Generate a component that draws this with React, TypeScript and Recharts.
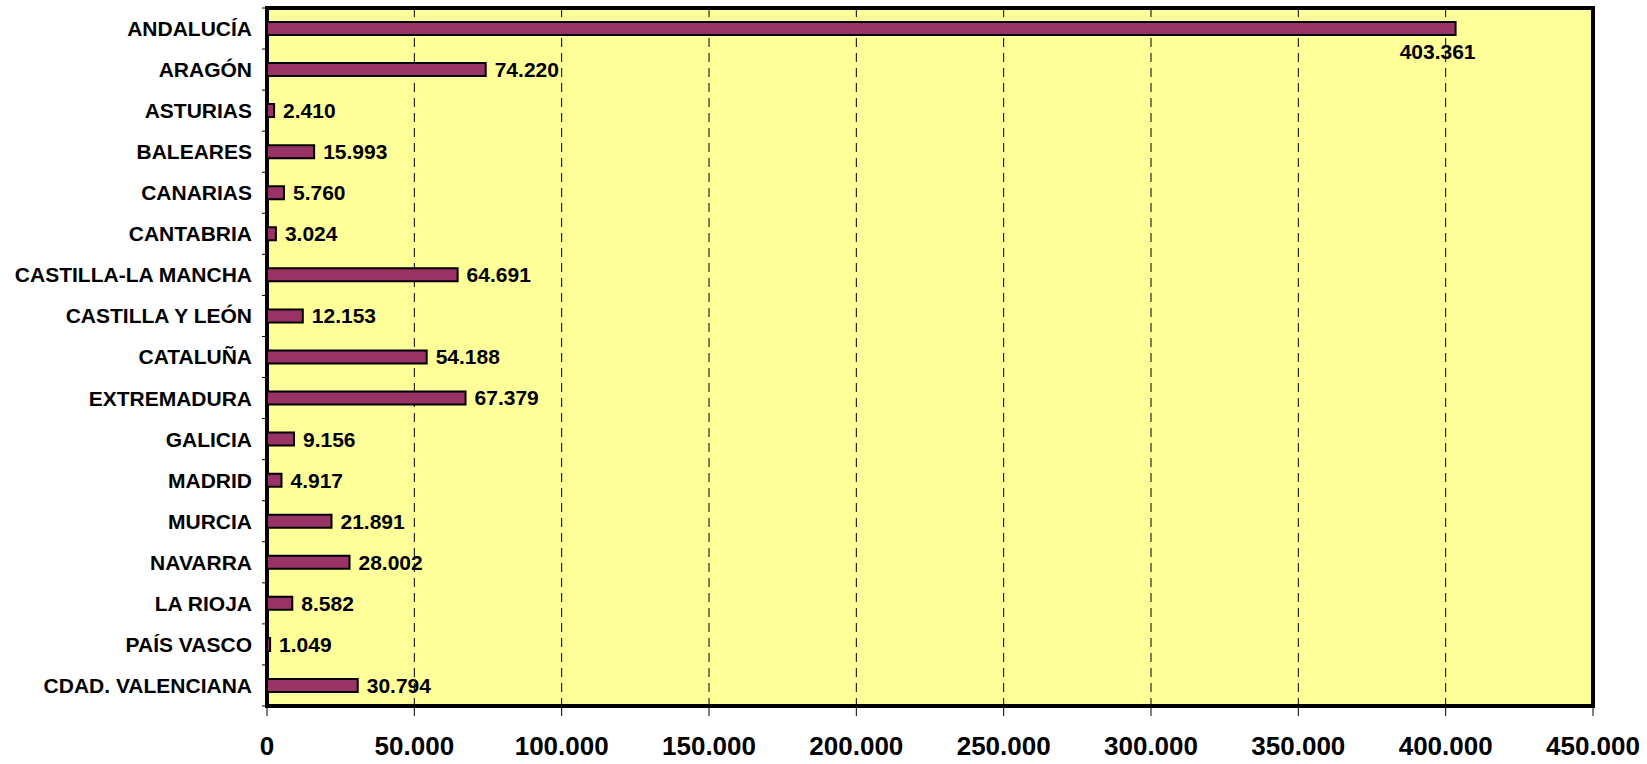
import React from 'react';
import { BarChart, Bar, XAxis, YAxis, CartesianGrid, LabelList, ReferenceArea } from 'recharts';

const regions = [
  'ANDALUCÍA', 'ARAGÓN', 'ASTURIAS', 'BALEARES', 'CANARIAS', 'CANTABRIA',
  'CASTILLA-LA MANCHA', 'CASTILLA Y LEÓN', 'CATALUÑA', 'EXTREMADURA', 'GALICIA',
  'MADRID', 'MURCIA', 'NAVARRA', 'LA RIOJA', 'PAÍS VASCO', 'CDAD. VALENCIANA',
];
const values = [
  403361, 74220, 2410, 15993, 5760, 3024, 64691, 12153, 54188, 67379, 9156,
  4917, 21891, 28002, 8582, 1049, 30794,
];
const xTicks = [0, 50000, 100000, 150000, 200000, 250000, 300000, 350000, 400000, 450000];

const data = regions.map((name, i) => ({ name, value: values[i] }));

const FONT = '"Liberation Sans", Arial, sans-serif';
const fmt = (n: number) => String(n).replace(/\B(?=(\d{3})+(?!\d))/g, '.');

const TICK_SIZE = 5;
const TICK_MARGIN = 10;

const CategoryTick = (props: any) => {
  const { x, y, payload, index, visibleTicksCount } = props;
  const axisX = x + TICK_SIZE + TICK_MARGIN;
  const half = payload && payload.offset != null ? payload.offset : 20.5;
  return (
    <g>
      <text
        x={x}
        y={y}
        dy="0.355em"
        textAnchor="end"
        fontFamily={FONT}
        fontWeight="bold"
        fontSize={21}
        fill="#000"
      >
        {payload.value}
      </text>
      <line x1={axisX - TICK_SIZE} x2={axisX} y1={y - half} y2={y - half} stroke="#000" strokeWidth={1} />
      {index === visibleTicksCount - 1 && (
        <line x1={axisX - TICK_SIZE} x2={axisX} y1={y + half} y2={y + half} stroke="#000" strokeWidth={1} />
      )}
    </g>
  );
};

const ValueLabel = (props: any) => {
  const { x, y, width, height, value, index } = props;
  if (index === 0) {
    return (
      <text
        x={x + width + 20}
        y={y + height + 23.5}
        textAnchor="end"
        fontFamily={FONT}
        fontWeight="bold"
        fontSize={21}
        fill="#000"
      >
        {fmt(value)}
      </text>
    );
  }
  return (
    <text
      x={x + width + 9}
      y={y + height / 2}
      dy="0.355em"
      textAnchor="start"
      fontFamily={FONT}
      fontWeight="bold"
      fontSize={21}
      fill="#000"
    >
      {fmt(value)}
    </text>
  );
};

export default function App() {
  return (
    <div style={{ position: 'absolute', left: 0, top: 0, width: 1647, height: 764, overflow: 'hidden', background: '#fff' }}>
      <BarChart
        width={1647}
        height={764}
        data={data}
        layout="vertical"
        margin={{ top: 8, right: 54, bottom: 0, left: 0 }}
      >
        <CartesianGrid
          horizontal={false}
          vertical={true}
          fill="#FFFF99"
          fillOpacity={1}
          stroke="#000"
          strokeDasharray="9 6"
        />
        <XAxis
          type="number"
          domain={[0, 450000]}
          ticks={xTicks}
          interval={0}
          tickFormatter={fmt}
          height={58}
          axisLine={false}
          tickLine={{ stroke: '#000', strokeWidth: 1 }}
          tickSize={10}
          tickMargin={21}
          tick={{ fill: '#000', fontSize: 26, fontWeight: 'bold', fontFamily: FONT }}
        />
        <YAxis
          type="category"
          dataKey="name"
          width={267}
          interval={0}
          axisLine={false}
          tickLine={false}
          tickSize={TICK_SIZE}
          tickMargin={TICK_MARGIN}
          tick={<CategoryTick />}
        />
        <Bar
          dataKey="value"
          fill="#993366"
          stroke="#000"
          strokeWidth={2}
          barSize={13}
          isAnimationActive={false}
        >
          <LabelList dataKey="value" content={<ValueLabel />} />
        </Bar>
        <ReferenceArea
          x1={0}
          x2={450000}
          fill="none"
          fillOpacity={0}
          stroke="#000"
          strokeWidth={4}
        />
      </BarChart>
    </div>
  );
}
